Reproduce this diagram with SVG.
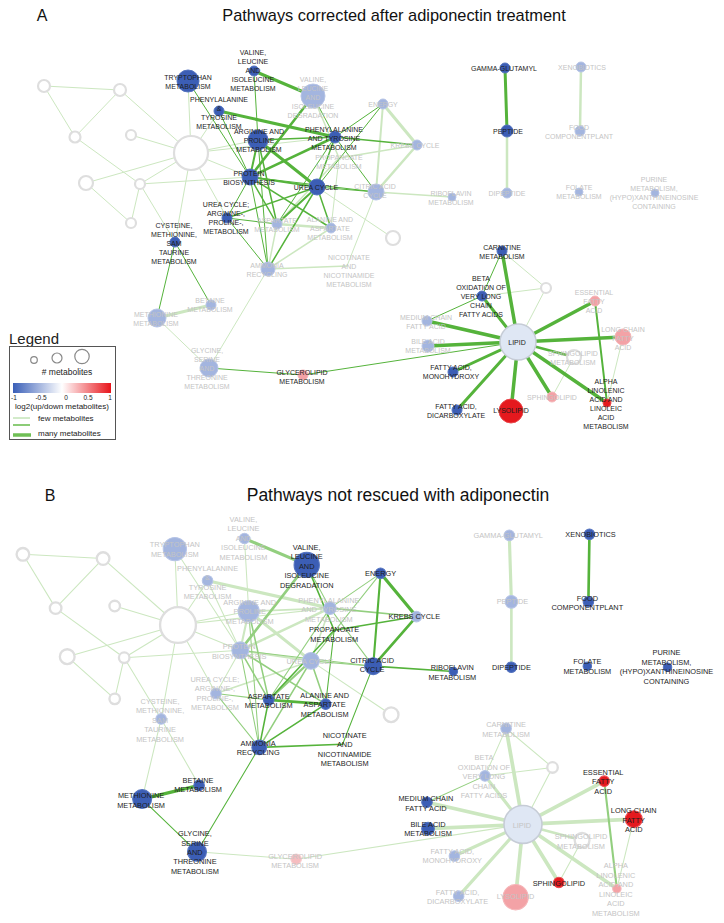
<svg xmlns="http://www.w3.org/2000/svg" width="724" height="923" viewBox="0 0 724 923">
<defs>
<style>
.e{fill:none;stroke-linecap:round}
.hi{stroke:#55b33b}
.md{stroke:#93cf7f}
.lo{stroke:#cce7c0}
.w1{stroke-width:1}
.w15{stroke-width:1.5}
.w2{stroke-width:2}
.w25{stroke-width:2.5}
.w3{stroke-width:3}
.w35{stroke-width:3.5}
.dk{fill:#3c5eb5;stroke:#5473bf;stroke-width:1}
.lt{fill:#a3b5df;stroke:#b6c4e6;stroke-width:1}
.rd{fill:#e5191e;stroke:#ea4a4e;stroke-width:1}
.pk{fill:#f3a2a6;stroke:#f5b5b8;stroke-width:1}
.pk2{fill:#f6bdc0;stroke:#f8cdd0;stroke-width:1}
.em{fill:#fff;stroke:#dedede;stroke-width:2.2}
.lp{fill:#dfe7f4;stroke:#c6ccd6;stroke-width:1.5}
.t{font-family:"Liberation Sans",Arial,sans-serif;font-size:7px;text-anchor:middle}
.k{fill:#1d1d1d}
.g{fill:#c4c4c4}
.ttl{font-family:"Liberation Sans",Arial,sans-serif;fill:#111}
.lg{font-family:"Liberation Sans",Arial,sans-serif;fill:#222}
</style>
<linearGradient id="grad" x1="0" y1="0" x2="1" y2="0">
<stop offset="0" stop-color="#3a5fb8"/>
<stop offset="0.5" stop-color="#ffffff"/>
<stop offset="1" stop-color="#e8141a"/>
</linearGradient>
</defs>
<rect width="724" height="923" fill="#fff"/>

<text class="ttl" x="42" y="21" font-size="16" text-anchor="middle">A</text>
<text class="ttl" x="394" y="21" font-size="16.4" text-anchor="middle">Pathways corrected after adiponectin treatment</text>
<text class="ttl" x="50" y="501" font-size="16" text-anchor="middle">B</text>
<text class="ttl" x="398" y="501" font-size="17.5" text-anchor="middle">Pathways not rescued with adiponectin</text>

<g id="panelA">
<g id="A-edges">
<line class="e lo w1" x1="44" y1="86" x2="120" y2="90"/>
<line class="e lo w1" x1="44" y1="86" x2="75" y2="137"/>
<line class="e lo w1" x1="120" y1="90" x2="75" y2="137"/>
<line class="e lo w1" x1="75" y1="137" x2="140" y2="184"/>
<line class="e lo w1" x1="120" y1="90" x2="191" y2="153"/>
<line class="e lo w1" x1="131" y1="135" x2="191" y2="153"/>
<line class="e lo w1" x1="86" y1="183" x2="191" y2="153"/>
<line class="e lo w1" x1="86" y1="183" x2="131" y2="223"/>
<line class="e lo w1" x1="140" y1="184" x2="131" y2="223"/>
<line class="e lo w1" x1="140" y1="184" x2="191" y2="153"/>
<line class="e lo w1" x1="140" y1="184" x2="250" y2="177"/>
<line class="e lo w1" x1="140" y1="184" x2="175" y2="242"/>
<line class="e lo w1" x1="191" y1="153" x2="188" y2="81"/>
<line class="e lo w1" x1="191" y1="153" x2="219" y2="111"/>
<line class="e lo w1" x1="191" y1="153" x2="258" y2="140"/>
<line class="e lo w1" x1="191" y1="153" x2="250" y2="177"/>
<line class="e lo w1" x1="191" y1="153" x2="227" y2="218"/>
<line class="e lo w1" x1="191" y1="153" x2="175" y2="242"/>
<line class="e lo w1" x1="191" y1="153" x2="335" y2="137"/>
<line class="e lo w1" x1="317" y1="187" x2="393" y2="238"/>
<line class="e lo w15" x1="313" y1="96" x2="339" y2="158"/>
<line class="e lo w25" x1="277" y1="224" x2="331" y2="228"/>
<line class="e lo w15" x1="277" y1="224" x2="268" y2="269"/>
<line class="e lo w15" x1="277" y1="224" x2="339" y2="158"/>
<line class="e lo w15" x1="331" y1="228" x2="268" y2="269"/>
<line class="e lo w1" x1="331" y1="228" x2="339" y2="158"/>
<line class="e lo w15" x1="268" y1="269" x2="347" y2="266"/>
<line class="e lo w1" x1="268" y1="269" x2="209" y2="368"/>
<line class="e lo w1" x1="376" y1="192" x2="347" y2="266"/>
<line class="e lo w25" x1="376" y1="192" x2="417" y2="145"/>
<line class="e lo w2" x1="376" y1="192" x2="383" y2="104"/>
<line class="e lo w15" x1="376" y1="192" x2="452" y2="197"/>
<line class="e lo w3" x1="383" y1="104" x2="417" y2="145"/>
<line class="e lo w15" x1="417" y1="145" x2="339" y2="158"/>
<line class="e lo w3" x1="157" y1="318" x2="211" y2="305"/>
<line class="e lo w1" x1="157" y1="318" x2="209" y2="368"/>
<line class="e lo w25" x1="507" y1="131" x2="507" y2="193"/>
<line class="e lo w25" x1="581" y1="67" x2="580" y2="131"/>
<line class="e lo w1" x1="518" y1="342" x2="546" y2="288"/>
<line class="e lo w1" x1="502" y1="251" x2="546" y2="288"/>
<line class="e lo w1" x1="482" y1="296" x2="546" y2="288"/>
<line class="e lo w1" x1="623" y1="337" x2="607" y2="403"/>
<line class="e lo w1" x1="574" y1="357" x2="552" y2="397"/>
<line class="e hi w1" x1="188" y1="81" x2="250" y2="177"/>
<line class="e hi w3" x1="219" y1="111" x2="335" y2="137"/>
<line class="e hi w1" x1="219" y1="111" x2="250" y2="177"/>
<line class="e hi w3" x1="254" y1="71" x2="313" y2="96"/>
<line class="e hi w1" x1="254" y1="71" x2="258" y2="140"/>
<line class="e hi w25" x1="313" y1="96" x2="250" y2="177"/>
<line class="e hi w1" x1="313" y1="96" x2="335" y2="137"/>
<line class="e hi w3" x1="258" y1="140" x2="317" y2="187"/>
<line class="e hi w2" x1="258" y1="140" x2="250" y2="177"/>
<line class="e hi w15" x1="258" y1="140" x2="335" y2="137"/>
<line class="e hi w15" x1="258" y1="140" x2="277" y2="224"/>
<line class="e hi w1" x1="258" y1="140" x2="268" y2="269"/>
<line class="e hi w25" x1="335" y1="137" x2="250" y2="177"/>
<line class="e hi w15" x1="335" y1="137" x2="317" y2="187"/>
<line class="e hi w15" x1="335" y1="137" x2="417" y2="145"/>
<line class="e hi w1" x1="335" y1="137" x2="383" y2="104"/>
<line class="e hi w1" x1="335" y1="137" x2="376" y2="192"/>
<line class="e hi w1" x1="335" y1="137" x2="277" y2="224"/>
<line class="e hi w2" x1="250" y1="177" x2="317" y2="187"/>
<line class="e hi w15" x1="250" y1="177" x2="331" y2="228"/>
<line class="e hi w15" x1="250" y1="177" x2="277" y2="224"/>
<line class="e hi w1" x1="250" y1="177" x2="268" y2="269"/>
<line class="e hi w1" x1="250" y1="177" x2="227" y2="218"/>
<line class="e hi w1" x1="250" y1="177" x2="376" y2="192"/>
<line class="e hi w2" x1="317" y1="187" x2="277" y2="224"/>
<line class="e hi w15" x1="317" y1="187" x2="331" y2="228"/>
<line class="e hi w15" x1="317" y1="187" x2="268" y2="269"/>
<line class="e hi w15" x1="317" y1="187" x2="227" y2="218"/>
<line class="e hi w1" x1="317" y1="187" x2="376" y2="192"/>
<line class="e hi w1" x1="317" y1="187" x2="383" y2="104"/>
<line class="e hi w1" x1="227" y1="218" x2="277" y2="224"/>
<line class="e hi w1" x1="227" y1="218" x2="268" y2="269"/>
<line class="e hi w1" x1="175" y1="242" x2="157" y2="318"/>
<line class="e hi w1" x1="175" y1="242" x2="211" y2="305"/>
<line class="e hi w1" x1="209" y1="368" x2="303" y2="375"/>
<line class="e hi w1" x1="303" y1="375" x2="518" y2="342"/>
<line class="e hi w3" x1="505" y1="68" x2="507" y2="131"/>
<line class="e hi w35" x1="518" y1="342" x2="502" y2="251"/>
<line class="e hi w3" x1="518" y1="342" x2="482" y2="296"/>
<line class="e hi w35" x1="518" y1="342" x2="427" y2="321"/>
<line class="e hi w35" x1="518" y1="342" x2="428" y2="346"/>
<line class="e hi w3" x1="518" y1="342" x2="453" y2="372"/>
<line class="e hi w3" x1="518" y1="342" x2="457" y2="410"/>
<line class="e hi w35" x1="518" y1="342" x2="511" y2="411"/>
<line class="e hi w35" x1="518" y1="342" x2="552" y2="397"/>
<line class="e hi w35" x1="518" y1="342" x2="607" y2="403"/>
<line class="e hi w35" x1="518" y1="342" x2="623" y2="337"/>
<line class="e hi w35" x1="518" y1="342" x2="595" y2="301"/>
<line class="e hi w25" x1="518" y1="342" x2="574" y2="357"/>
<line class="e hi w1" x1="502" y1="251" x2="482" y2="296"/>
<line class="e hi w1" x1="482" y1="296" x2="427" y2="321"/>
<line class="e hi w2" x1="595" y1="301" x2="607" y2="403"/>
</g>
<g id="A-x1"><circle class="em" cx="44" cy="86" r="6"/></g>
<g id="A-x2"><circle class="em" cx="120" cy="90" r="6"/></g>
<g id="A-x3"><circle class="em" cx="75" cy="137" r="5.5"/></g>
<g id="A-x4"><circle class="em" cx="131" cy="135" r="5"/></g>
<g id="A-big"><circle class="em" cx="191" cy="153" r="17"/></g>
<g id="A-x5"><circle class="em" cx="86" cy="183" r="7"/></g>
<g id="A-x6"><circle class="em" cx="140" cy="184" r="5"/></g>
<g id="A-x7"><circle class="em" cx="131" cy="223" r="5"/></g>
<g id="A-x8"><circle class="em" cx="393" cy="238" r="7"/></g>
<g id="A-x9"><circle class="em" cx="546" cy="288" r="5"/></g>
<g id="A-VLD"><circle class="lt" cx="313" cy="96" r="12"/><text class="t g" x="313" y="81.5"><tspan x="313">VALINE,</tspan><tspan x="313" dy="9">LEUCINE</tspan><tspan x="313" dy="9">AND</tspan><tspan x="313" dy="9">ISOLEUCINE</tspan><tspan x="313" dy="9">DEGRADATION</tspan></text></g>
<g id="A-ENE"><circle class="lt" cx="383" cy="104" r="5"/><text class="t g" x="383" y="106.5">ENERGY</text></g>
<g id="A-KRB"><circle class="lt" cx="417" cy="145" r="5"/><text class="t g" x="415" y="147.5">KREBS CYCLE</text></g>
<g id="A-PRO"><text class="t g" x="339" y="160"><tspan x="339">PROPANOATE</tspan><tspan x="339" dy="9">METABOLISM</tspan></text></g>
<g id="A-CIT"><circle class="lt" cx="376" cy="192" r="8"/><text class="t g" x="375" y="189"><tspan x="375">CITRIC ACID</tspan><tspan x="375" dy="9">CYCLE</tspan></text></g>
<g id="A-RIB"><circle class="lt" cx="452" cy="197" r="4"/><text class="t g" x="451" y="196"><tspan x="451">RIBOFLAVIN</tspan><tspan x="451" dy="9">METABOLISM</tspan></text></g>
<g id="A-ASP"><circle class="lt" cx="277" cy="224" r="5"/><text class="t g" x="277" y="223"><tspan x="277">ASPARTATE</tspan><tspan x="277" dy="9">METABOLISM</tspan></text></g>
<g id="A-ALA"><circle class="lt" cx="331" cy="228" r="5"/><text class="t g" x="330" y="222"><tspan x="330">ALANINE AND</tspan><tspan x="330" dy="9">ASPARTATE</tspan><tspan x="330" dy="9">METABOLISM</tspan></text></g>
<g id="A-AMM"><circle class="lt" cx="268" cy="269" r="7"/><text class="t g" x="267" y="267.5"><tspan x="267">AMMONIA</tspan><tspan x="267" dy="9">RECYCLING</tspan></text></g>
<g id="A-NIC"><text class="t g" x="349" y="260"><tspan x="349">NICOTINATE</tspan><tspan x="349" dy="9">AND</tspan><tspan x="349" dy="9">NICOTINAMIDE</tspan><tspan x="349" dy="9">METABOLISM</tspan></text></g>
<g id="A-BET"><circle class="lt" cx="211" cy="305" r="5"/><text class="t g" x="210" y="302.5"><tspan x="210">BETAINE</tspan><tspan x="210" dy="9">METABOLISM</tspan></text></g>
<g id="A-MET"><circle class="lt" cx="157" cy="318" r="9"/><text class="t g" x="156" y="317"><tspan x="156">METHIONINE</tspan><tspan x="156" dy="9">METABOLISM</tspan></text></g>
<g id="A-GLY"><circle class="lt" cx="209" cy="368" r="9"/><text class="t g" x="207" y="353"><tspan x="207">GLYCINE,</tspan><tspan x="207" dy="9">SERINE</tspan><tspan x="207" dy="9">AND</tspan><tspan x="207" dy="9">THREONINE</tspan><tspan x="207" dy="9">METABOLISM</tspan></text></g>
<g id="A-DIP"><circle class="lt" cx="507" cy="193" r="5"/><text class="t g" x="507" y="196">DIPEPTIDE</text></g>
<g id="A-XEN"><circle class="lt" cx="581" cy="67" r="5"/><text class="t g" x="582" y="70">XENOBIOTICS</text></g>
<g id="A-FOOD"><circle class="lt" cx="580" cy="131" r="5"/><text class="t g" x="579" y="130"><tspan x="579">FOOD</tspan><tspan x="579" dy="9">COMPONENTPLANT</tspan></text></g>
<g id="A-FOL"><circle class="lt" cx="579" cy="192" r="4"/><text class="t g" x="579" y="190"><tspan x="579">FOLATE</tspan><tspan x="579" dy="9">METABOLISM</tspan></text></g>
<g id="A-PUR"><circle class="lt" cx="655" cy="193" r="4"/><text class="t g" x="654" y="181.5"><tspan x="654">PURINE</tspan><tspan x="654" dy="9">METABOLISM,</tspan><tspan x="654" dy="9">(HYPO)XANTHINEINOSINE</tspan><tspan x="654" dy="9">CONTAINING</tspan></text></g>
<g id="A-MCF"><circle class="lt" cx="427" cy="321" r="5"/><text class="t g" x="426" y="320"><tspan x="426">MEDIUM CHAIN</tspan><tspan x="426" dy="9">FATTY ACID</tspan></text></g>
<g id="A-BIL"><circle class="lt" cx="428" cy="346" r="6"/><text class="t g" x="428" y="344"><tspan x="428">BILE ACID</tspan><tspan x="428" dy="9">METABOLISM</tspan></text></g>
<g id="A-ESS"><circle class="pk" cx="595" cy="301" r="5"/><text class="t g" x="594" y="295"><tspan x="594">ESSENTIAL</tspan><tspan x="594" dy="9">FATTY</tspan><tspan x="594" dy="9">ACID</tspan></text></g>
<g id="A-LCF"><circle class="pk" cx="623" cy="337" r="8"/><text class="t g" x="623" y="331.5"><tspan x="623">LONG CHAIN</tspan><tspan x="623" dy="9">FATTY</tspan><tspan x="623" dy="9">ACID</tspan></text></g>
<g id="A-SPM"><circle class="em" cx="574" cy="357" r="7"/><text class="t g" x="573" y="356"><tspan x="573">SPHINGOLIPID</tspan><tspan x="573" dy="9">METABOLISM</tspan></text></g>
<g id="A-SPH"><circle class="pk" cx="552" cy="397" r="5"/><text class="t g" x="552" y="400">SPHINGOLIPID</text></g>
<g id="A-TRP"><circle class="dk" cx="188" cy="81" r="11"/><text class="t k" x="188" y="79.5"><tspan x="188">TRYPTOPHAN</tspan><tspan x="188" dy="9">METABOLISM</tspan></text></g>
<g id="A-VLM"><circle class="dk" cx="254" cy="71" r="5"/><text class="t k" x="253" y="55.2"><tspan x="253">VALINE,</tspan><tspan x="253" dy="9">LEUCINE</tspan><tspan x="253" dy="9">AND</tspan><tspan x="253" dy="9">ISOLEUCINE</tspan><tspan x="253" dy="9">METABOLISM</tspan></text></g>
<g id="A-PHT"><circle class="dk" cx="219" cy="111" r="5"/><text class="t k" x="219" y="101.5"><tspan x="219">PHENYLALANINE</tspan><tspan x="219" dy="9">&amp;</tspan><tspan x="219" dy="9">TYROSINE</tspan><tspan x="219" dy="9">METABOLISM</tspan></text></g>
<g id="A-ARG"><circle class="dk" cx="258" cy="140" r="10"/><text class="t k" x="259" y="134"><tspan x="259">ARGININE AND</tspan><tspan x="259" dy="9">PROLINE</tspan><tspan x="259" dy="9">METABOLISM</tspan></text></g>
<g id="A-PTM"><circle class="dk" cx="335" cy="137" r="6"/><text class="t k" x="334" y="132"><tspan x="334">PHENYLALANINE</tspan><tspan x="334" dy="9">AND TYROSINE</tspan><tspan x="334" dy="9">METABOLISM</tspan></text></g>
<g id="A-PBS"><circle class="dk" cx="250" cy="177" r="8"/><text class="t k" x="249" y="176"><tspan x="249">PROTEIN</tspan><tspan x="249" dy="9">BIOSYNTHESIS</tspan></text></g>
<g id="A-UREA"><circle class="dk" cx="317" cy="187" r="8"/><text class="t k" x="316" y="189.5">UREA CYCLE</text></g>
<g id="A-UCA"><circle class="dk" cx="227" cy="218" r="5"/><text class="t k" x="226" y="207"><tspan x="226">UREA CYCLE;</tspan><tspan x="226" dy="9">ARGININE-,</tspan><tspan x="226" dy="9">PROLINE-,</tspan><tspan x="226" dy="9">METABOLISM</tspan></text></g>
<g id="A-CYS"><circle class="dk" cx="175" cy="242" r="5"/><text class="t k" x="174" y="227.5"><tspan x="174">CYSTEINE,</tspan><tspan x="174" dy="9">METHIONINE,</tspan><tspan x="174" dy="9">SAM</tspan><tspan x="174" dy="9">TAURINE</tspan><tspan x="174" dy="9">METABOLISM</tspan></text></g>
<g id="A-GLP"><circle class="pk" cx="303" cy="375" r="5"/><text class="t k" x="302" y="374.5"><tspan x="302">GLYCEROLIPID</tspan><tspan x="302" dy="9">METABOLISM</tspan></text></g>
<g id="A-GGT"><circle class="dk" cx="505" cy="68" r="5"/><text class="t k" x="504" y="71">GAMMA-GLUTAMYL</text></g>
<g id="A-PEP"><circle class="dk" cx="507" cy="131" r="6"/><text class="t k" x="508" y="133.5">PEPTIDE</text></g>
<g id="A-CAR"><circle class="dk" cx="502" cy="251" r="5"/><text class="t k" x="502" y="250"><tspan x="502">CARNITINE</tspan><tspan x="502" dy="9">METABOLISM</tspan></text></g>
<g id="A-BOX"><circle class="dk" cx="482" cy="296" r="5"/><text class="t k" x="481" y="281"><tspan x="481">BETA</tspan><tspan x="481" dy="9">OXIDATION OF</tspan><tspan x="481" dy="9">VERY LONG</tspan><tspan x="481" dy="9">CHAIN</tspan><tspan x="481" dy="9">FATTY ACIDS</tspan></text></g>
<g id="A-LIP"><circle class="lp" cx="518" cy="342" r="18"/><text class="t k" x="517" y="345">LIPID</text></g>
<g id="A-FAM"><circle class="dk" cx="453" cy="372" r="5"/><text class="t k" x="451" y="370"><tspan x="451">FATTY ACID,</tspan><tspan x="451" dy="9">MONOHYDROXY</tspan></text></g>
<g id="A-FAD"><circle class="dk" cx="457" cy="410" r="5"/><text class="t k" x="456" y="408.5"><tspan x="456">FATTY ACID,</tspan><tspan x="456" dy="9">DICARBOXYLATE</tspan></text></g>
<g id="A-LYS"><circle class="rd" cx="511" cy="411" r="12"/><text class="t k" x="511" y="413">LYSOLIPID</text></g>
<g id="A-ALN"><circle class="rd" cx="607" cy="403" r="4"/><text class="t k" x="606" y="383.5"><tspan x="606">ALPHA</tspan><tspan x="606" dy="9">LINOLENIC</tspan><tspan x="606" dy="9">ACID AND</tspan><tspan x="606" dy="9">LINOLEIC</tspan><tspan x="606" dy="9">ACID</tspan><tspan x="606" dy="9">METABOLISM</tspan></text></g>
</g>

<g id="legend">
<text class="lg" x="9" y="344" font-size="15">Legend</text>
<rect x="9.5" y="346.5" width="106" height="93" fill="none" stroke="#555" stroke-width="1"/>
<circle cx="34" cy="360" r="3.3" fill="#fff" stroke="#888" stroke-width="1.2"/>
<circle cx="57" cy="358" r="5" fill="#fff" stroke="#888" stroke-width="1.2"/>
<circle cx="82" cy="356.5" r="7.2" fill="#fff" stroke="#888" stroke-width="1.2"/>
<text class="lg" x="67" y="375" font-size="8.5" text-anchor="middle"># metabolites</text>
<rect x="13" y="383" width="98" height="10" fill="url(#grad)"/>
<text class="lg" x="14" y="399.5" font-size="6.5" text-anchor="middle">-1</text>
<text class="lg" x="41" y="399.5" font-size="6.5" text-anchor="middle">-0.5</text>
<text class="lg" x="66" y="399.5" font-size="6.5" text-anchor="middle">0</text>
<text class="lg" x="88" y="399.5" font-size="6.5" text-anchor="middle">0.5</text>
<text class="lg" x="110" y="399.5" font-size="6.5" text-anchor="middle">1</text>
<text class="lg" x="62" y="409" font-size="8" text-anchor="middle">log2(up/down metabolites)</text>
<line x1="13" y1="418" x2="30" y2="418" stroke="#8fcc78" stroke-width="0.8"/>
<text class="lg" x="38" y="421" font-size="8">few metabolites</text>
<line x1="13" y1="425" x2="30" y2="425" stroke="#6fbf55" stroke-width="1.6"/>
<line x1="13" y1="435" x2="31" y2="435" stroke="#6fbf55" stroke-width="3.5"/>
<text class="lg" x="38" y="436" font-size="8">many metabolites</text>
</g>

<g id="panelB" transform="matrix(1.055 0 0 1.055 -23.5 463.6)">
<g id="B-edges">
<line class="e lo w1" x1="44" y1="86" x2="120" y2="90"/>
<line class="e lo w1" x1="44" y1="86" x2="75" y2="137"/>
<line class="e lo w1" x1="120" y1="90" x2="75" y2="137"/>
<line class="e lo w1" x1="75" y1="137" x2="140" y2="184"/>
<line class="e lo w1" x1="120" y1="90" x2="191" y2="153"/>
<line class="e lo w1" x1="131" y1="135" x2="191" y2="153"/>
<line class="e lo w1" x1="86" y1="183" x2="191" y2="153"/>
<line class="e lo w1" x1="86" y1="183" x2="131" y2="223"/>
<line class="e lo w1" x1="140" y1="184" x2="131" y2="223"/>
<line class="e lo w1" x1="140" y1="184" x2="191" y2="153"/>
<line class="e lo w1" x1="140" y1="184" x2="250" y2="177"/>
<line class="e lo w1" x1="140" y1="184" x2="175" y2="242"/>
<line class="e lo w1" x1="191" y1="153" x2="188" y2="81"/>
<line class="e lo w1" x1="191" y1="153" x2="219" y2="111"/>
<line class="e lo w1" x1="191" y1="153" x2="258" y2="140"/>
<line class="e lo w1" x1="191" y1="153" x2="250" y2="177"/>
<line class="e lo w1" x1="191" y1="153" x2="227" y2="218"/>
<line class="e lo w1" x1="191" y1="153" x2="175" y2="242"/>
<line class="e lo w1" x1="191" y1="153" x2="335" y2="137"/>
<line class="e lo w1" x1="317" y1="187" x2="393" y2="238"/>
<line class="e lo w1" x1="188" y1="81" x2="250" y2="177"/>
<line class="e lo w3" x1="219" y1="111" x2="335" y2="137"/>
<line class="e lo w1" x1="219" y1="111" x2="250" y2="177"/>
<line class="e lo w1" x1="254" y1="71" x2="258" y2="140"/>
<line class="e lo w3" x1="258" y1="140" x2="317" y2="187"/>
<line class="e lo w2" x1="258" y1="140" x2="250" y2="177"/>
<line class="e lo w15" x1="258" y1="140" x2="335" y2="137"/>
<line class="e lo w25" x1="335" y1="137" x2="250" y2="177"/>
<line class="e lo w15" x1="335" y1="137" x2="317" y2="187"/>
<line class="e lo w2" x1="250" y1="177" x2="317" y2="187"/>
<line class="e lo w1" x1="250" y1="177" x2="227" y2="218"/>
<line class="e lo w15" x1="317" y1="187" x2="227" y2="218"/>
<line class="e lo w1" x1="175" y1="242" x2="157" y2="318"/>
<line class="e lo w1" x1="175" y1="242" x2="211" y2="305"/>
<line class="e lo w1" x1="209" y1="368" x2="303" y2="375"/>
<line class="e lo w1" x1="303" y1="375" x2="518" y2="342"/>
<line class="e lo w3" x1="505" y1="68" x2="507" y2="131"/>
<line class="e lo w25" x1="507" y1="131" x2="507" y2="193"/>
<line class="e lo w35" x1="518" y1="342" x2="502" y2="251"/>
<line class="e lo w3" x1="518" y1="342" x2="482" y2="296"/>
<line class="e lo w35" x1="518" y1="342" x2="427" y2="321"/>
<line class="e lo w35" x1="518" y1="342" x2="428" y2="346"/>
<line class="e lo w3" x1="518" y1="342" x2="453" y2="372"/>
<line class="e lo w3" x1="518" y1="342" x2="457" y2="410"/>
<line class="e lo w35" x1="518" y1="342" x2="511" y2="411"/>
<line class="e lo w35" x1="518" y1="342" x2="552" y2="397"/>
<line class="e lo w35" x1="518" y1="342" x2="607" y2="403"/>
<line class="e lo w35" x1="518" y1="342" x2="623" y2="337"/>
<line class="e lo w35" x1="518" y1="342" x2="595" y2="301"/>
<line class="e lo w25" x1="518" y1="342" x2="574" y2="357"/>
<line class="e lo w1" x1="518" y1="342" x2="546" y2="288"/>
<line class="e lo w1" x1="502" y1="251" x2="546" y2="288"/>
<line class="e lo w1" x1="482" y1="296" x2="546" y2="288"/>
<line class="e lo w1" x1="502" y1="251" x2="482" y2="296"/>
<line class="e lo w1" x1="623" y1="337" x2="607" y2="403"/>
<line class="e lo w1" x1="574" y1="357" x2="552" y2="397"/>
<line class="e md w3" x1="254" y1="71" x2="313" y2="96"/>
<line class="e md w25" x1="313" y1="96" x2="250" y2="177"/>
<line class="e md w1" x1="313" y1="96" x2="335" y2="137"/>
<line class="e md w15" x1="258" y1="140" x2="277" y2="224"/>
<line class="e md w1" x1="258" y1="140" x2="268" y2="269"/>
<line class="e md w15" x1="335" y1="137" x2="417" y2="145"/>
<line class="e md w1" x1="335" y1="137" x2="383" y2="104"/>
<line class="e md w1" x1="335" y1="137" x2="376" y2="192"/>
<line class="e md w1" x1="335" y1="137" x2="277" y2="224"/>
<line class="e md w15" x1="250" y1="177" x2="331" y2="228"/>
<line class="e md w15" x1="250" y1="177" x2="277" y2="224"/>
<line class="e md w1" x1="250" y1="177" x2="268" y2="269"/>
<line class="e md w1" x1="250" y1="177" x2="376" y2="192"/>
<line class="e md w2" x1="317" y1="187" x2="277" y2="224"/>
<line class="e md w15" x1="317" y1="187" x2="331" y2="228"/>
<line class="e md w15" x1="317" y1="187" x2="268" y2="269"/>
<line class="e md w1" x1="317" y1="187" x2="376" y2="192"/>
<line class="e md w1" x1="317" y1="187" x2="383" y2="104"/>
<line class="e md w1" x1="227" y1="218" x2="277" y2="224"/>
<line class="e md w1" x1="227" y1="218" x2="268" y2="269"/>
<line class="e md w1" x1="482" y1="296" x2="427" y2="321"/>
<line class="e md w2" x1="595" y1="301" x2="607" y2="403"/>
<line class="e hi w15" x1="313" y1="96" x2="339" y2="158"/>
<line class="e hi w25" x1="277" y1="224" x2="331" y2="228"/>
<line class="e hi w15" x1="277" y1="224" x2="268" y2="269"/>
<line class="e hi w15" x1="277" y1="224" x2="339" y2="158"/>
<line class="e hi w15" x1="331" y1="228" x2="268" y2="269"/>
<line class="e hi w1" x1="331" y1="228" x2="339" y2="158"/>
<line class="e hi w15" x1="268" y1="269" x2="347" y2="266"/>
<line class="e hi w1" x1="268" y1="269" x2="209" y2="368"/>
<line class="e hi w1" x1="376" y1="192" x2="347" y2="266"/>
<line class="e hi w25" x1="376" y1="192" x2="417" y2="145"/>
<line class="e hi w2" x1="376" y1="192" x2="383" y2="104"/>
<line class="e hi w15" x1="376" y1="192" x2="452" y2="197"/>
<line class="e hi w3" x1="383" y1="104" x2="417" y2="145"/>
<line class="e hi w15" x1="417" y1="145" x2="339" y2="158"/>
<line class="e hi w3" x1="157" y1="318" x2="211" y2="305"/>
<line class="e hi w1" x1="157" y1="318" x2="209" y2="368"/>
<line class="e hi w25" x1="581" y1="67" x2="580" y2="131"/>
</g>
<g id="B-x1"><circle class="em" cx="44" cy="86" r="6"/></g>
<g id="B-x2"><circle class="em" cx="120" cy="90" r="6"/></g>
<g id="B-x3"><circle class="em" cx="75" cy="137" r="5.5"/></g>
<g id="B-x4"><circle class="em" cx="131" cy="135" r="5"/></g>
<g id="B-big"><circle class="em" cx="191" cy="153" r="17"/></g>
<g id="B-x5"><circle class="em" cx="86" cy="183" r="7"/></g>
<g id="B-x6"><circle class="em" cx="140" cy="184" r="5"/></g>
<g id="B-x7"><circle class="em" cx="131" cy="223" r="5"/></g>
<g id="B-x8"><circle class="em" cx="393" cy="238" r="7"/></g>
<g id="B-x9"><circle class="em" cx="546" cy="288" r="5"/></g>
<g id="B-TRP"><circle class="lt" cx="188" cy="81" r="11"/><text class="t g" x="188" y="79.5"><tspan x="188">TRYPTOPHAN</tspan><tspan x="188" dy="9">METABOLISM</tspan></text></g>
<g id="B-VLM"><circle class="lt" cx="254" cy="71" r="5"/><text class="t g" x="253" y="55.2"><tspan x="253">VALINE,</tspan><tspan x="253" dy="9">LEUCINE</tspan><tspan x="253" dy="9">AND</tspan><tspan x="253" dy="9">ISOLEUCINE</tspan><tspan x="253" dy="9">METABOLISM</tspan></text></g>
<g id="B-PHT"><circle class="lt" cx="219" cy="111" r="5"/><text class="t g" x="219" y="101.5"><tspan x="219">PHENYLALANINE</tspan><tspan x="219" dy="9">&amp;</tspan><tspan x="219" dy="9">TYROSINE</tspan><tspan x="219" dy="9">METABOLISM</tspan></text></g>
<g id="B-ARG"><circle class="lt" cx="258" cy="140" r="10"/><text class="t g" x="259" y="134"><tspan x="259">ARGININE AND</tspan><tspan x="259" dy="9">PROLINE</tspan><tspan x="259" dy="9">METABOLISM</tspan></text></g>
<g id="B-PTM"><circle class="lt" cx="335" cy="137" r="6"/><text class="t g" x="334" y="132"><tspan x="334">PHENYLALANINE</tspan><tspan x="334" dy="9">AND TYROSINE</tspan><tspan x="334" dy="9">METABOLISM</tspan></text></g>
<g id="B-PBS"><circle class="lt" cx="250" cy="177" r="8"/><text class="t g" x="249" y="176"><tspan x="249">PROTEIN</tspan><tspan x="249" dy="9">BIOSYNTHESIS</tspan></text></g>
<g id="B-UREA"><circle class="lt" cx="317" cy="187" r="8"/><text class="t g" x="316" y="189.5">UREA CYCLE</text></g>
<g id="B-UCA"><circle class="lt" cx="227" cy="218" r="5"/><text class="t g" x="226" y="207"><tspan x="226">UREA CYCLE;</tspan><tspan x="226" dy="9">ARGININE-,</tspan><tspan x="226" dy="9">PROLINE-,</tspan><tspan x="226" dy="9">METABOLISM</tspan></text></g>
<g id="B-CYS"><circle class="lt" cx="175" cy="242" r="5"/><text class="t g" x="174" y="227.5"><tspan x="174">CYSTEINE,</tspan><tspan x="174" dy="9">METHIONINE,</tspan><tspan x="174" dy="9">SAM</tspan><tspan x="174" dy="9">TAURINE</tspan><tspan x="174" dy="9">METABOLISM</tspan></text></g>
<g id="B-GLP"><circle class="pk2" cx="303" cy="375" r="5"/><text class="t g" x="302" y="374.5"><tspan x="302">GLYCEROLIPID</tspan><tspan x="302" dy="9">METABOLISM</tspan></text></g>
<g id="B-GGT"><circle class="lt" cx="505" cy="68" r="5"/><text class="t g" x="504" y="71">GAMMA-GLUTAMYL</text></g>
<g id="B-PEP"><circle class="lt" cx="507" cy="131" r="6"/><text class="t g" x="508" y="133.5">PEPTIDE</text></g>
<g id="B-CAR"><circle class="lt" cx="502" cy="251" r="5"/><text class="t g" x="502" y="250"><tspan x="502">CARNITINE</tspan><tspan x="502" dy="9">METABOLISM</tspan></text></g>
<g id="B-BOX"><circle class="lt" cx="482" cy="296" r="5"/><text class="t g" x="481" y="281"><tspan x="481">BETA</tspan><tspan x="481" dy="9">OXIDATION OF</tspan><tspan x="481" dy="9">VERY LONG</tspan><tspan x="481" dy="9">CHAIN</tspan><tspan x="481" dy="9">FATTY ACIDS</tspan></text></g>
<g id="B-LIP"><circle class="lp" cx="518" cy="342" r="18"/><text class="t g" x="517" y="345">LIPID</text></g>
<g id="B-FAM"><circle class="lt" cx="453" cy="372" r="5"/><text class="t g" x="451" y="370"><tspan x="451">FATTY ACID,</tspan><tspan x="451" dy="9">MONOHYDROXY</tspan></text></g>
<g id="B-FAD"><circle class="lt" cx="457" cy="410" r="5"/><text class="t g" x="456" y="408.5"><tspan x="456">FATTY ACID,</tspan><tspan x="456" dy="9">DICARBOXYLATE</tspan></text></g>
<g id="B-LYS"><circle class="pk" cx="511" cy="411" r="12"/><text class="t g" x="511" y="413">LYSOLIPID</text></g>
<g id="B-ALN"><circle class="pk" cx="607" cy="403" r="4"/><text class="t g" x="606" y="383.5"><tspan x="606">ALPHA</tspan><tspan x="606" dy="9">LINOLENIC</tspan><tspan x="606" dy="9">ACID AND</tspan><tspan x="606" dy="9">LINOLEIC</tspan><tspan x="606" dy="9">ACID</tspan><tspan x="606" dy="9">METABOLISM</tspan></text></g>
<g id="B-SPM"><circle class="em" cx="574" cy="357" r="7"/><text class="t g" x="573" y="356"><tspan x="573">SPHINGOLIPID</tspan><tspan x="573" dy="9">METABOLISM</tspan></text></g>
<g id="B-KRB"><circle class="lt" cx="417" cy="145" r="5"/><text class="t k" x="415" y="147.5">KREBS CYCLE</text></g>
<g id="B-VLD"><circle class="dk" cx="313" cy="96" r="12"/><text class="t k" x="313" y="81.5"><tspan x="313">VALINE,</tspan><tspan x="313" dy="9">LEUCINE</tspan><tspan x="313" dy="9">AND</tspan><tspan x="313" dy="9">ISOLEUCINE</tspan><tspan x="313" dy="9">DEGRADATION</tspan></text></g>
<g id="B-ENE"><circle class="dk" cx="383" cy="104" r="5"/><text class="t k" x="383" y="106.5">ENERGY</text></g>
<g id="B-PRO"><text class="t k" x="339" y="160"><tspan x="339">PROPANOATE</tspan><tspan x="339" dy="9">METABOLISM</tspan></text></g>
<g id="B-CIT"><circle class="dk" cx="376" cy="192" r="8"/><text class="t k" x="375" y="189"><tspan x="375">CITRIC ACID</tspan><tspan x="375" dy="9">CYCLE</tspan></text></g>
<g id="B-RIB"><circle class="dk" cx="452" cy="197" r="4"/><text class="t k" x="451" y="196"><tspan x="451">RIBOFLAVIN</tspan><tspan x="451" dy="9">METABOLISM</tspan></text></g>
<g id="B-ASP"><circle class="dk" cx="277" cy="224" r="5"/><text class="t k" x="277" y="223"><tspan x="277">ASPARTATE</tspan><tspan x="277" dy="9">METABOLISM</tspan></text></g>
<g id="B-ALA"><circle class="dk" cx="331" cy="228" r="5"/><text class="t k" x="330" y="222"><tspan x="330">ALANINE AND</tspan><tspan x="330" dy="9">ASPARTATE</tspan><tspan x="330" dy="9">METABOLISM</tspan></text></g>
<g id="B-AMM"><circle class="dk" cx="268" cy="269" r="7"/><text class="t k" x="267" y="267.5"><tspan x="267">AMMONIA</tspan><tspan x="267" dy="9">RECYCLING</tspan></text></g>
<g id="B-NIC"><text class="t k" x="349" y="260"><tspan x="349">NICOTINATE</tspan><tspan x="349" dy="9">AND</tspan><tspan x="349" dy="9">NICOTINAMIDE</tspan><tspan x="349" dy="9">METABOLISM</tspan></text></g>
<g id="B-BET"><circle class="dk" cx="211" cy="305" r="5"/><text class="t k" x="210" y="302.5"><tspan x="210">BETAINE</tspan><tspan x="210" dy="9">METABOLISM</tspan></text></g>
<g id="B-MET"><circle class="dk" cx="157" cy="318" r="9"/><text class="t k" x="156" y="317"><tspan x="156">METHIONINE</tspan><tspan x="156" dy="9">METABOLISM</tspan></text></g>
<g id="B-GLY"><circle class="dk" cx="209" cy="368" r="9"/><text class="t k" x="207" y="353"><tspan x="207">GLYCINE,</tspan><tspan x="207" dy="9">SERINE</tspan><tspan x="207" dy="9">AND</tspan><tspan x="207" dy="9">THREONINE</tspan><tspan x="207" dy="9">METABOLISM</tspan></text></g>
<g id="B-DIP"><circle class="dk" cx="507" cy="193" r="5"/><text class="t k" x="507" y="196">DIPEPTIDE</text></g>
<g id="B-XEN"><circle class="dk" cx="581" cy="67" r="5"/><text class="t k" x="582" y="70">XENOBIOTICS</text></g>
<g id="B-FOOD"><circle class="dk" cx="580" cy="131" r="5"/><text class="t k" x="579" y="130"><tspan x="579">FOOD</tspan><tspan x="579" dy="9">COMPONENTPLANT</tspan></text></g>
<g id="B-FOL"><circle class="dk" cx="579" cy="192" r="4"/><text class="t k" x="579" y="190"><tspan x="579">FOLATE</tspan><tspan x="579" dy="9">METABOLISM</tspan></text></g>
<g id="B-PUR"><circle class="dk" cx="655" cy="193" r="4"/><text class="t k" x="654" y="181.5"><tspan x="654">PURINE</tspan><tspan x="654" dy="9">METABOLISM,</tspan><tspan x="654" dy="9">(HYPO)XANTHINEINOSINE</tspan><tspan x="654" dy="9">CONTAINING</tspan></text></g>
<g id="B-MCF"><circle class="dk" cx="427" cy="321" r="5"/><text class="t k" x="426" y="320"><tspan x="426">MEDIUM CHAIN</tspan><tspan x="426" dy="9">FATTY ACID</tspan></text></g>
<g id="B-BIL"><circle class="dk" cx="428" cy="346" r="6"/><text class="t k" x="428" y="344"><tspan x="428">BILE ACID</tspan><tspan x="428" dy="9">METABOLISM</tspan></text></g>
<g id="B-ESS"><circle class="rd" cx="595" cy="301" r="5"/><text class="t k" x="594" y="295"><tspan x="594">ESSENTIAL</tspan><tspan x="594" dy="9">FATTY</tspan><tspan x="594" dy="9">ACID</tspan></text></g>
<g id="B-LCF"><circle class="rd" cx="623" cy="337" r="8"/><text class="t k" x="623" y="331.5"><tspan x="623">LONG CHAIN</tspan><tspan x="623" dy="9">FATTY</tspan><tspan x="623" dy="9">ACID</tspan></text></g>
<g id="B-SPH"><circle class="rd" cx="552" cy="397" r="5"/><text class="t k" x="552" y="400">SPHINGOLIPID</text></g>
</g>
</svg>
